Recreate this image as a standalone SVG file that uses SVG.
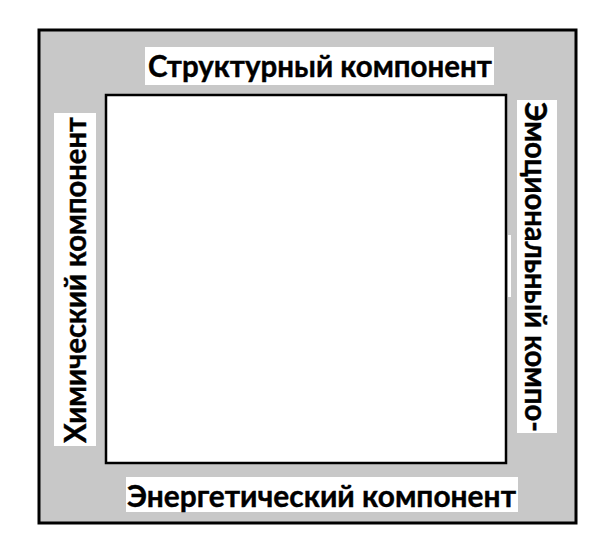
<svg xmlns="http://www.w3.org/2000/svg" width="614" height="558" viewBox="0 0 614 558">
<style>
.lbl{fill:#fff}
.t{font-family:Lato,"Open Sans","Liberation Sans",sans-serif;font-weight:bold;font-size:31px;fill:#000;stroke:#000;stroke-width:0.4}
</style>
<rect width="614" height="558" fill="#fff"/>
<g id="frame">
<rect x="39" y="30" width="537" height="493" fill="#c8c8c8" stroke="#000" stroke-width="3"/>
</g>
<g id="center">
<rect x="106" y="95" width="400" height="368" fill="#fff" stroke="#000" stroke-width="2.5"/>
<rect x="508" y="235" width="3" height="62" fill="#fff"/>
</g>
<g id="structural">
<rect class="lbl" x="145" y="47" width="349" height="38"/>
<text class="t" x="148" y="77" textLength="344" lengthAdjust="spacingAndGlyphs">Структурный компонент</text>
</g>
<g id="chemical">
<rect class="lbl" x="54" y="113" width="42" height="333"/>
<text class="t" transform="translate(86,443) rotate(-90)" x="0" y="0" textLength="326" lengthAdjust="spacingAndGlyphs">Химический компонент</text>
</g>
<g id="emotional">
<rect class="lbl" x="517" y="100" width="40" height="333"/>
<text class="t" transform="translate(525,102) rotate(90)" x="0" y="0" textLength="330" lengthAdjust="spacingAndGlyphs">Эмоциональный компо-</text>
</g>
<g id="energetic">
<rect class="lbl" x="126" y="477" width="392" height="35"/>
<text class="t" x="127" y="507" textLength="389" lengthAdjust="spacingAndGlyphs">Энергетический компонент</text>
</g>
<g id="connectors"></g>
</svg>
